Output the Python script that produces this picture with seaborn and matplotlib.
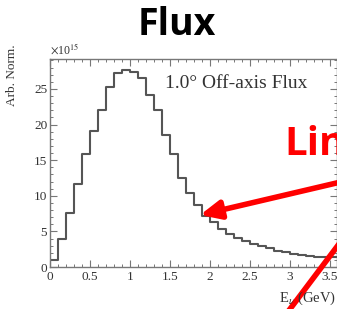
import numpy as np
import pandas as pd
import seaborn as sns
import matplotlib.pyplot as plt
from matplotlib.ticker import MultipleLocator, FuncFormatter

# ---- data ----
bin_low = [0.0, 0.1, 0.2, 0.3, 0.4, 0.5, 0.6, 0.7, 0.8, 0.9,
           1.0, 1.1, 1.2, 1.3, 1.4, 1.5, 1.6, 1.7, 1.8, 1.9,
           2.0, 2.1, 2.2, 2.3, 2.4, 2.5, 2.6, 2.7, 2.8, 2.9,
           3.0, 3.1, 3.2, 3.3, 3.4, 3.5]
bin_width = 0.1
flux = [1.0, 3.9, 7.6, 11.7, 15.8, 19.1, 22.1, 25.2, 27.3, 27.7,
        27.4, 26.6, 24.2, 22.1, 18.6, 15.9, 12.5, 10.4, 8.7, 7.2,
        6.3, 5.4, 4.65, 4.1, 3.65, 3.25, 2.9, 2.6, 2.3, 2.05,
        1.85, 1.68, 1.52, 1.42, 1.36, 1.34]
x_ticks = [0, 0.5, 1, 1.5, 2, 2.5, 3, 3.5]
y_ticks = [0, 5, 10, 15, 20, 25]

df = pd.DataFrame({"energy": [b + bin_width / 2 for b in bin_low], "flux": flux})
edges = bin_low + [bin_low[-1] + bin_width]

sns.set_style("ticks")
plt.rcParams["font.family"] = ["Liberation Serif", "DejaVu Serif"]
plt.rcParams["mathtext.fontset"] = "stix"

W, H = 337, 309
fig = plt.figure(figsize=(W / 100, H / 100), dpi=100)
ax = fig.add_axes([50 / W, 42 / H, 287 / W, 208 / H])

sns.histplot(data=df, x="energy", weights="flux", bins=edges, element="step",
             fill=False, color="#555555", linewidth=1.5, ax=ax)

ax.set_xlim(0, 3.59)
ax.set_ylim(0, 29.2)
ax.set_xticks(x_ticks)
ax.set_yticks(y_ticks)
ax.xaxis.set_minor_locator(MultipleLocator(0.1))
ax.yaxis.set_minor_locator(MultipleLocator(1))
ax.xaxis.set_major_formatter(FuncFormatter(lambda v, p: f"{v:g}"))
ax.tick_params(which="both", direction="in", top=True, right=True,
               colors="#777777", labelcolor="#333333", labelsize=9.5)
ax.tick_params(which="major", length=5, width=0.8)
ax.tick_params(which="minor", length=2.5, width=0.7)
ax.tick_params(axis="x", pad=3)
ax.tick_params(axis="y", pad=2)
for s in ax.spines.values():
    s.set_color("#777777")
    s.set_linewidth(1.0)
ax.set_xlabel("")
ax.set_ylabel("")

ax.text(0.0, 1.01, r"$\times$10$^{15}$", transform=ax.transAxes,
        ha="left", va="bottom", fontsize=8.5, color="#333333")
fig.text(12 / W, 1 - 75 / H, "Arb. Norm.", rotation=90, ha="center",
         va="center", fontsize=9.5, color="#333333")
ax.text(165 / W * W / 287 - 50 / 287, 1 - (83 - 59) / 208, "1.0° Off-axis Flux",
        transform=ax.transAxes, ha="left", va="center", fontsize=14,
        color="#333333")
fig.text(336 / W, 1 - 298 / H, r"E$_{\nu}$ (GeV)", ha="right", va="center",
         fontsize=10.5, color="#333333")

# title
fig.text(177 / W, 1 - 35 / H, "Flux", ha="center", va="baseline",
         fontsize=27, fontweight="bold", family="Open Sans", color="black")

# red annotations
fig.text(284 / W, 1 - 155 / H, "Lin", ha="left", va="baseline",
         fontsize=29, fontweight="bold", family="Open Sans", color="#ff0000")
ax.annotate("", xy=(200, H - 215), xycoords="figure pixels",
            xytext=(345, H - 181), textcoords="figure pixels",
            arrowprops=dict(arrowstyle="-|>,head_length=1.2,head_width=0.55",
                            color="#ff0000", lw=4, shrinkA=0, shrinkB=0),
            annotation_clip=False)
ax.annotate("", xy=(345, H - 236), xycoords="figure pixels",
            xytext=(284, H - 317), textcoords="figure pixels",
            arrowprops=dict(arrowstyle="-", color="#ff0000", lw=4,
                            shrinkA=0, shrinkB=0),
            annotation_clip=False)

fig.savefig("out.png", dpi=100)
